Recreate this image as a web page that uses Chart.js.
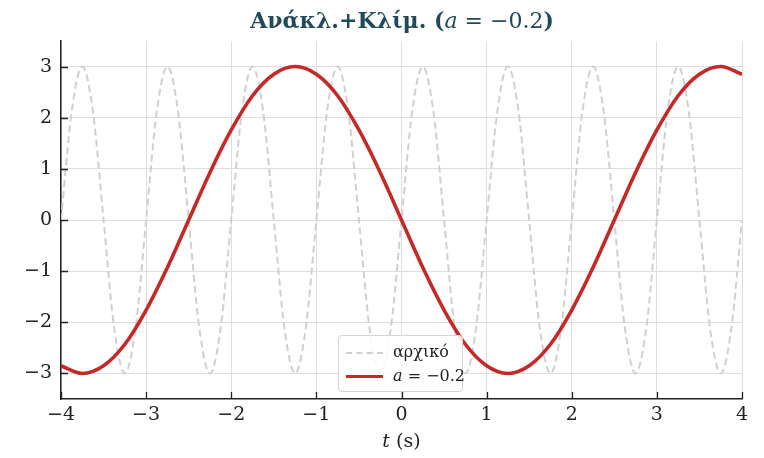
<!DOCTYPE html>
<html>
<head>
<meta charset="utf-8">
<script src="https://cdn.jsdelivr.net/npm/chart.js@4/dist/chart.umd.min.js"></script>
<style>
  body { margin: 0; background: #fff; }
  .wrap { position: relative; width: 764px; height: 458px; }
  .title { position: absolute; left: 0; width: 804px; top: 6px; text-align: center;
    font-family: "DejaVu Serif", serif; font-weight: bold; font-size: 22px; line-height: 28px; color: #1f4a5a; }
  .title i { font-weight: normal; }
  .title .m { font-weight: normal; }
  .xlabel { position: absolute; left: 0; width: 803px; top: 429px; text-align: center;
    font-family: "DejaVu Serif", serif; font-size: 19px; line-height: 22px; color: #222; }
  .legend { position: absolute; left: 338px; top: 335px; width: 125px; height: 57px; box-sizing: border-box;
    border: 1px solid #d4d4d4; border-radius: 4px; background: rgba(255,255,255,0.85);
    font-family: "DejaVu Serif", serif; font-size: 16px; color: #222; }
  .row { position: absolute; left: 0; height: 22px; line-height: 22px; }
  .sw { position: absolute; left: 7px; width: 37px; }
  .lbl { position: absolute; left: 54px; white-space: nowrap; }
</style>
</head>
<body>
<div class="wrap">
  <canvas id="myChart" width="764" height="458"></canvas>
  <div class="title">Ανάκλ.+Κλίμ. (<i>a</i><span class="m"> = −0.2</span>)</div>
  <div class="xlabel"><i>t</i> (s)</div>
  <div class="legend">
    <div class="row" style="top:5px"><div class="sw" style="top:11px;border-top:2px dashed #cfcfcf"></div><span class="lbl">αρχικό</span></div>
    <div class="row" style="top:29px"><div class="sw" style="top:10px;border-top:3.5px solid #c62828"></div><span class="lbl"><i>a</i> = −0.2</span></div>
  </div>
</div>
<script>
//! data
const tGrey=[-4,-3.875,-3.75,-3.625,-3.5,-3.375,-3.25,-3.125,
  -3,-2.875,-2.75,-2.625,-2.5,-2.375,-2.25,-2.125,
  -2,-1.875,-1.75,-1.625,-1.5,-1.375,-1.25,-1.125,
  -1,-0.875,-0.75,-0.625,-0.5,-0.375,-0.25,-0.125,
  0,0.125,0.25,0.375,0.5,0.625,0.75,0.875,
  1,1.125,1.25,1.375,1.5,1.625,1.75,1.875,
  2,2.125,2.25,2.375,2.5,2.625,2.75,2.875,
  3,3.125,3.25,3.375,3.5,3.625,3.75,3.875,
  4];
const yGrey=[0,2.12,3,2.12,0,-2.12,-3,-2.12,
  0,2.12,3,2.12,0,-2.12,-3,-2.12,
  0,2.12,3,2.12,0,-2.12,-3,-2.12,
  0,2.12,3,2.12,0,-2.12,-3,-2.12,
  0,2.12,3,2.12,0,-2.12,-3,-2.12,
  0,2.12,3,2.12,0,-2.12,-3,-2.12,
  0,2.12,3,2.12,0,-2.12,-3,-2.12,
  0,2.12,3,2.12,0,-2.12,-3,-2.12,
  0];
const tRed=[-4,-3.75,-3.5,-3.25,-3,-2.75,-2.5,-2.25,-2,-1.75,-1.5,-1.25,-1,-0.75,-0.5,-0.25,
  0,0.25,0.5,0.75,1,1.25,1.5,1.75,2,2.25,2.5,2.75,3,3.25,3.5,3.75,4];
const yRed=[-2.85,-3,-2.85,-2.43,-1.76,-0.93,0,0.93,1.76,2.43,2.85,3,2.85,2.43,1.76,0.93,
  0,-0.93,-1.76,-2.43,-2.85,-3,-2.85,-2.43,-1.76,-0.93,0,0.93,1.76,2.43,2.85,3,2.85];
const xTicks=[-4,-3,-2,-1,0,1,2,3,4];
const yTicks=[-3,-2,-1,0,1,2,3];

const minus = v => String(v).replace('-', '\u2212');

// inward tick marks like the original
const innerTicks = {
  id: 'innerTicks',
  afterDatasetsDraw(chart){
    const c = chart.ctx, xs = chart.scales.x, ys = chart.scales.y, a = chart.chartArea;
    c.save();
    c.strokeStyle = '#222';
    c.lineWidth = 1.3;
    c.beginPath();
    for(let v of xTicks){
      const px = Math.round(xs.getPixelForValue(v)) + 0.5;
      c.moveTo(px, a.bottom); c.lineTo(px, a.bottom - 7);
    }
    for(let v of yTicks){
      const py = Math.round(ys.getPixelForValue(v)) + 0.5;
      c.moveTo(a.left, py); c.lineTo(a.left + 7, py);
    }
    c.stroke();
    c.restore();
  }
};

const tickFont = { family: 'DejaVu Serif', size: 19 };

new Chart(document.getElementById('myChart'), {
  type: 'line',
  data: {
    datasets: [{
      label: 'αρχικό',
      data: tGrey.map((t, i) => ({ x: t, y: yGrey[i] })),
      borderColor: '#d0d0d0',
      borderWidth: 2,
      borderDash: [7, 4],
      pointRadius: 0,
      cubicInterpolationMode: 'monotone',
      order: 2
    }, {
      label: 'a = −0.2',
      data: tRed.map((t, i) => ({ x: t, y: yRed[i] })),
      borderColor: '#c62828',
      borderWidth: 3.6,
      pointRadius: 0,
      cubicInterpolationMode: 'monotone',
      order: 1
    }]
  },
  options: {
    responsive: false,
    animation: false,
    events: [],
    layout: { padding: { top: 41, right: 22, left: 0, bottom: 0 } },
    plugins: { legend: { display: false }, title: { display: false }, tooltip: { enabled: false } },
    scales: {
      x: {
        type: 'linear', min: -4, max: 4,
        afterBuildTicks: s => { s.ticks = xTicks.map(v => ({ value: v })); },
        afterFit: s => { s.height = 59; },
        ticks: { font: tickFont, color: '#222', padding: 5, maxRotation: 0, callback: minus },
        grid: { color: '#dedede', lineWidth: 1, drawTicks: false },
        border: { color: '#222', width: 1.5 }
      },
      y: {
        min: -3.5, max: 3.5,
        afterBuildTicks: s => { s.ticks = yTicks.map(v => ({ value: v })); },
        afterFit: s => { s.width = 61; },
        ticks: { font: tickFont, color: '#222', padding: 9, callback: minus },
        grid: { color: '#dedede', lineWidth: 1, drawTicks: false },
        border: { color: '#222', width: 1.5 }
      }
    }
  },
  plugins: [innerTicks]
});
</script>
</body>
</html>
